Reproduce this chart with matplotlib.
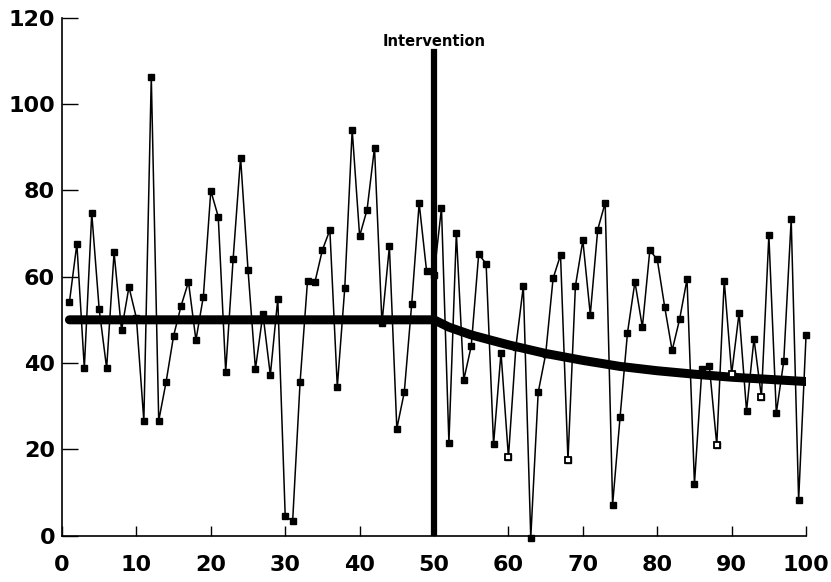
import numpy as np
import matplotlib.pyplot as plt

# observed series, one value per session 1..100
sessions = list(range(1, 101))
values = [
    54.1, 67.6, 38.8, 74.7, 52.4, 38.8, 65.6, 47.6, 57.6, 50.4,
    26.6, 106.3, 26.6, 35.7, 46.3, 53.2, 58.8, 45.3, 55.4, 79.9,
    73.9, 38.0, 64.1, 87.6, 61.6, 38.6, 51.4, 37.2, 54.9, 4.5,
    3.4, 35.6, 59.1, 58.8, 66.2, 70.8, 34.5, 57.3, 94.0, 69.4,
    75.5, 89.9, 49.2, 67.0, 24.8, 33.2, 53.7, 77.0, 61.3, 60.4,
    75.9, 21.5, 70.1, 36.1, 43.9, 65.2, 63.0, 21.2, 42.4, 18.2,
    43.7, 57.8, -0.5, 33.2, 42.0, 59.6, 65.0, 17.5, 57.8, 68.4,
    51.2, 70.9, 77.1, 7.2, 27.4, 47.0, 58.8, 48.3, 66.1, 64.0,
    53.0, 42.9, 50.1, 59.4, 12.0, 38.6, 39.3, 21.0, 59.1, 37.5,
    51.6, 28.9, 45.6, 32.1, 69.6, 28.4, 40.4, 73.3, 8.2, 46.5,
]
hollow = [60, 68, 88, 90, 94]

# level / trend line
trend_x = [1, 50, 52, 55, 60, 65, 70, 75, 80, 85, 90, 95, 100]
trend_y = [50, 50, 48.3, 46.5, 44.2, 42.2, 40.6, 39.2, 38.2, 37.4, 36.7, 36.2, 35.7]

intervention = 50

fig = plt.figure(figsize=(8.31, 5.82), dpi=100)
ax = fig.add_axes([0.0746, 0.0797, 0.8954, 0.8899])

ax.plot(trend_x, trend_y, color="black", lw=6.5, solid_capstyle="round",
        solid_joinstyle="round", zorder=2)
ax.plot(sessions, values, color="black", lw=1.1, marker="s", ms=4.8,
        mfc="black", mec="black", zorder=3, clip_on=False)
hx = [s for s in sessions if s in hollow]
hy = [values[s - 1] for s in hx]
ax.plot(hx, hy, ls="none", marker="s", ms=4.8, mfc="white", mec="black",
        mew=1.3, zorder=4)

ax.plot([intervention, intervention], [0, 112], color="black", lw=4.5, zorder=5)
ax.text(intervention, 114.4, "Intervention", ha="center", va="center",
        fontsize=10.5, fontweight="bold")

ax.set_xlim(0, 100)
ax.set_ylim(0, 120)
ax.set_xticks(range(0, 101, 10))
ax.set_yticks(range(0, 121, 20))
for s in ["top", "right"]:
    ax.spines[s].set_visible(False)
for s in ["left", "bottom"]:
    ax.spines[s].set_linewidth(1.2)
ax.tick_params(axis="y", direction="in", length=11.5, width=1, pad=5,
               labelsize=16)
ax.tick_params(axis="x", direction="in", length=7, width=1, pad=14,
               labelsize=16)
for lab in ax.get_xticklabels() + ax.get_yticklabels():
    lab.set_fontweight("bold")

fig.savefig("out.png", dpi=100)
